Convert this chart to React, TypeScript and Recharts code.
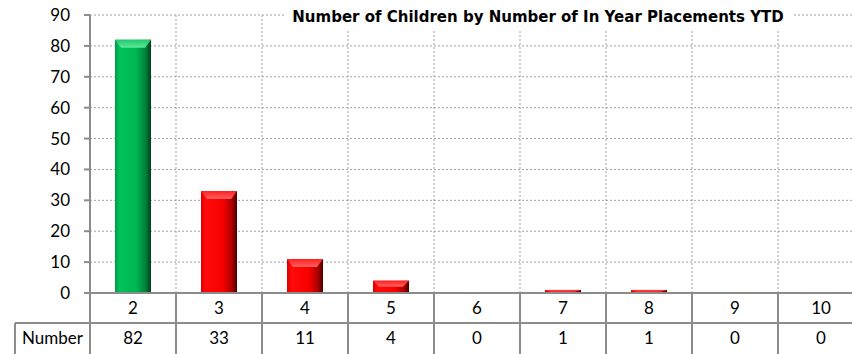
import React from "react";
import { Bar, BarChart, CartesianGrid, Cell, XAxis, YAxis } from "recharts";

const categories = ["2", "3", "4", "5", "6", "7", "8", "9", "10"];
const counts = [82, 33, 11, 4, 0, 1, 1, 0, 0];
const yTicks = [0, 10, 20, 30, 40, 50, 60, 70, 80, 90];
const rowLabel = "Number";
const title = "Number of Children by Number of In Year Placements YTD";

const CHART_W = 866;
const CHART_H = 354;
const Y_AXIS_W = 90;
const MARGIN = { top: 15, right: 2, bottom: 0, left: 0 };
const X_AXIS_H = 61;
const PLOT_W = CHART_W - Y_AXIS_W - MARGIN.left - MARGIN.right;
const CELL_W = PLOT_W / categories.length;
const ROW_H = 30;
const LINE = "#8c8c8c";
const FONT = "Lato, 'Open Sans', sans-serif";
const FS = 17;

const data = categories.map((cat, i) => ({ cat, value: counts[i] }));

// category + value rows of the data table under the axis
function TableTick(props: any) {
  const { x, y, payload } = props;
  const i = payload.index;
  const left = x - CELL_W / 2;
  const right = x + CELL_W / 2;
  return (
    <g>
      <line x1={right} y1={y} x2={right} y2={y + ROW_H * 2 + 2} stroke={LINE} strokeWidth={2} />
      {i === 0 && (
        <g>
          <line x1={left} y1={y} x2={left} y2={y + ROW_H * 2 + 2} stroke={LINE} strokeWidth={2} />
          <line x1={left - 75} y1={y + ROW_H} x2={left} y2={y + ROW_H} stroke={LINE} strokeWidth={2} />
          <line x1={left - 75} y1={y + ROW_H} x2={left - 75} y2={y + ROW_H * 2 + 2} stroke={LINE} strokeWidth={2} />
          <text x={left - 37.5} y={y + ROW_H * 1.5 + 6} textAnchor="middle" fontSize={FS} fontFamily={FONT} fill="#000">
            {rowLabel}
          </text>
        </g>
      )}
      <line x1={left} y1={y + ROW_H} x2={right} y2={y + ROW_H} stroke={LINE} strokeWidth={2} />
      <text x={x} y={y + ROW_H / 2 + 6} textAnchor="middle" fontSize={FS} fontFamily={FONT} fill="#000">
        {payload.value}
      </text>
      <text x={x} y={y + ROW_H * 1.5 + 6} textAnchor="middle" fontSize={FS} fontFamily={FONT} fill="#000">
        {counts[i]}
      </text>
    </g>
  );
}

// bevelled 3D column
function BevelBar(props: any) {
  const { x, y, width, height, index } = props;
  if (!height || height <= 0) return null;
  const green = index === 0;
  const bevel = Math.min(8, height / 2);
  const inset = Math.min(6, width / 4);
  return (
    <g>
      <rect x={x} y={y} width={width} height={height} fill={green ? "url(#gGreen)" : "url(#gRed)"} />
      <polygon
        points={`${x},${y} ${x + width},${y} ${x + width - inset},${y + bevel} ${x + inset},${y + bevel}`}
        fill={green ? "url(#gGreenTop)" : "url(#gRedTop)"}
      />
      <rect x={x} y={y + height - 1} width={width} height={2} fill={green ? "#7fe0a8" : "#ff9a9a"} opacity={0.8} />
    </g>
  );
}

export default function App() {
  return (
    <div
      style={{
        position: "fixed",
        left: 0,
        top: 0,
        width: 852,
        height: 354,
        overflow: "hidden",
        background: "#fff",
      }}
    >
      <BarChart width={CHART_W} height={CHART_H} data={data} margin={MARGIN} barSize={36}>
        <defs>
          <linearGradient id="gGreen" x1="0" y1="0" x2="1" y2="0">
            <stop offset="0%" stopColor="#05964a" />
            <stop offset="12%" stopColor="#00c25a" />
            <stop offset="60%" stopColor="#00b552" />
            <stop offset="85%" stopColor="#00803a" />
            <stop offset="100%" stopColor="#003f1a" />
          </linearGradient>
          <linearGradient id="gGreenTop" x1="0" y1="0" x2="0" y2="1">
            <stop offset="0%" stopColor="#20c96c" />
            <stop offset="100%" stopColor="#5ae89a" />
          </linearGradient>
          <linearGradient id="gRed" x1="0" y1="0" x2="1" y2="0">
            <stop offset="0%" stopColor="#d80000" />
            <stop offset="12%" stopColor="#ff0a0a" />
            <stop offset="60%" stopColor="#f80000" />
            <stop offset="85%" stopColor="#b00000" />
            <stop offset="100%" stopColor="#4a0000" />
          </linearGradient>
          <linearGradient id="gRedTop" x1="0" y1="0" x2="0" y2="1">
            <stop offset="0%" stopColor="#ff2020" />
            <stop offset="100%" stopColor="#ff6060" />
          </linearGradient>
        </defs>
        <CartesianGrid
          stroke="#a0a0a0"
          strokeDasharray="2 2"
          verticalCoordinatesGenerator={({ offset }: any) =>
            categories.slice(1).map((_, i) => offset.left + CELL_W * (i + 1)).concat([offset.left + offset.width])
          }
        />
        <XAxis
          dataKey="cat"
          height={X_AXIS_H}
          interval={0}
          axisLine={{ stroke: LINE, strokeWidth: 2 }}
          tickLine={false}
          tickSize={0}
          tickMargin={0}
          tick={<TableTick />}
        />
        <YAxis
          width={Y_AXIS_W}
          domain={[0, 90]}
          ticks={yTicks}
          interval={0}
          axisLine={{ stroke: LINE, strokeWidth: 2 }}
          tickLine={{ stroke: LINE, strokeWidth: 2 }}
          tickSize={6}
          tickMargin={14}
          tick={{ fontSize: FS, fontFamily: FONT, fill: "#000" }}
        />
        <Bar dataKey="value" isAnimationActive={false} shape={<BevelBar />}>
          {data.map((d, i) => (
            <Cell key={d.cat} fill={i === 0 ? "#00b050" : "#ff0000"} />
          ))}
        </Bar>
      </BarChart>
      <div
        style={{
          position: "absolute",
          left: 284,
          top: 2,
          width: 508,
          height: 29,
          background: "#fff",
          display: "flex",
          alignItems: "center",
          justifyContent: "center",
          fontFamily: "'DejaVu Sans', Verdana, sans-serif",
          fontWeight: "bold",
          fontSize: 15,
          color: "#000",
          whiteSpace: "nowrap",
        }}
      >
        {title}
      </div>
    </div>
  );
}
